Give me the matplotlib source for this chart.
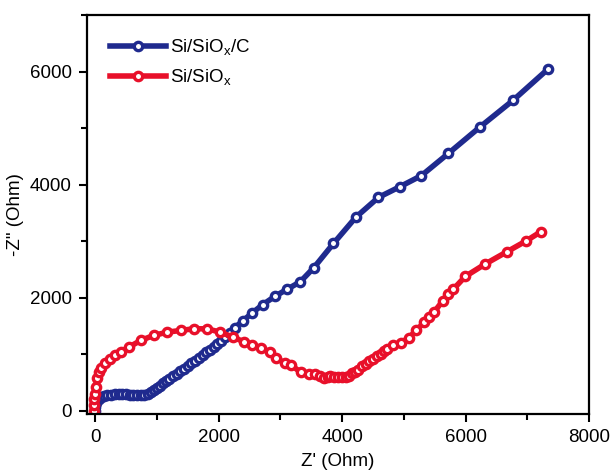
import matplotlib
matplotlib.use("Agg")
import matplotlib.pyplot as plt
from matplotlib.ticker import MultipleLocator

plt.rcParams['font.family'] = ['Liberation Sans', 'DejaVu Sans']

# Si/SiOx/C
c_x = [0, 5, 15, 30, 60, 100, 150, 200, 260, 320, 380, 440, 500, 560, 620, 680,
       740, 800, 850, 900, 950, 1000, 1050, 1100, 1150, 1200, 1260, 1320, 1380,
       1440, 1500, 1560, 1620, 1680, 1740, 1800, 1860, 1920, 1980, 2040, 2100,
       2180, 2259, 2399, 2544, 2715, 2911, 3114, 3323, 3544, 3861, 4222, 4589,
       4943, 5285, 5722, 6234, 6766, 7330]
c_y = [0, 60, 130, 180, 210, 235, 255, 270, 282, 290, 293, 292, 287, 281, 276,
       272, 272, 278, 295, 325, 360, 400, 440, 480, 520, 560, 605, 650, 695, 740,
       785, 835, 885, 935, 985, 1030, 1080, 1130, 1180, 1235, 1300, 1380, 1465,
       1593, 1728, 1875, 2021, 2150, 2279, 2531, 2958, 3421, 3773, 3966, 4159,
       4552, 5020, 5489, 6040]

# Si/SiOx
s_x = [-20, -15, -10, 0, 10, 30, 60, 95, 158, 243, 330, 420, 551, 741, 949,
       1171, 1386, 1595, 1816, 2025, 2234, 2418, 2544, 2690, 2829, 2924, 3070,
       3177, 3335, 3462, 3557, 3640, 3715, 3770, 3810, 3870, 3937, 4000, 4063,
       4110, 4158, 4205, 4253, 4320, 4380, 4440, 4506, 4570, 4633, 4680, 4728,
       4823, 4949, 5076, 5203, 5329, 5410, 5487, 5633, 5720, 5804, 5994, 6310,
       6671, 6975, 7215]
s_y = [0, 100, 200, 300, 420, 570, 680, 760, 840, 920, 990, 1045, 1125, 1242,
       1330, 1388, 1418, 1447, 1447, 1388, 1300, 1213, 1166, 1107, 1037, 931,
       844, 803, 674, 644, 644, 610, 568, 590, 609, 600, 598, 590, 598, 620, 656,
       690, 726, 780, 832, 875, 920, 965, 1008, 1050, 1095, 1154, 1195, 1289,
       1418, 1564, 1650, 1740, 1945, 2060, 2150, 2373, 2589, 2812, 2999, 3163]

blue = '#1f2a8e'
red = '#e8102a'

fig = plt.figure(figsize=(6.13, 4.72), dpi=100)
ax = fig.add_axes([0.142, 0.123, 0.819, 0.845])

ax.plot(c_x, c_y, '-o', color=blue, lw=4, ms=6, mfc='white', mec=blue, mew=2.4,
        label='Si/SiO$_\\mathregular{x}$/C')
ax.plot(s_x, s_y, '-o', color=red, lw=4, ms=6, mfc='white', mec=red, mew=2.4,
        label='Si/SiO$_\\mathregular{x}$')

ax.set_xlim(-130, 8000)
ax.set_ylim(-60, 7000)
ax.xaxis.set_major_locator(MultipleLocator(2000))
ax.xaxis.set_minor_locator(MultipleLocator(1000))
ax.yaxis.set_major_locator(MultipleLocator(2000))
ax.yaxis.set_minor_locator(MultipleLocator(1000))
ax.set_yticks([0, 2000, 4000, 6000])
ax.tick_params(which='both', direction='out', top=False, right=False, width=1.5,
               labelsize=13.5)
ax.tick_params(which='major', length=6, pad=5)
ax.tick_params(which='minor', length=4)
for s in ax.spines.values():
    s.set_linewidth(1.6)

ax.set_xlabel("Z' (Ohm)", fontsize=13.5, labelpad=5)
ax.set_ylabel('-Z" (Ohm)', fontsize=13.5, labelpad=4)

ax.legend(loc='upper left', frameon=False, fontsize=13.5, handlelength=3,
          numpoints=1, handletextpad=0.2, labelspacing=0.5, borderaxespad=0.8)

fig.savefig('out.png', dpi=100)
